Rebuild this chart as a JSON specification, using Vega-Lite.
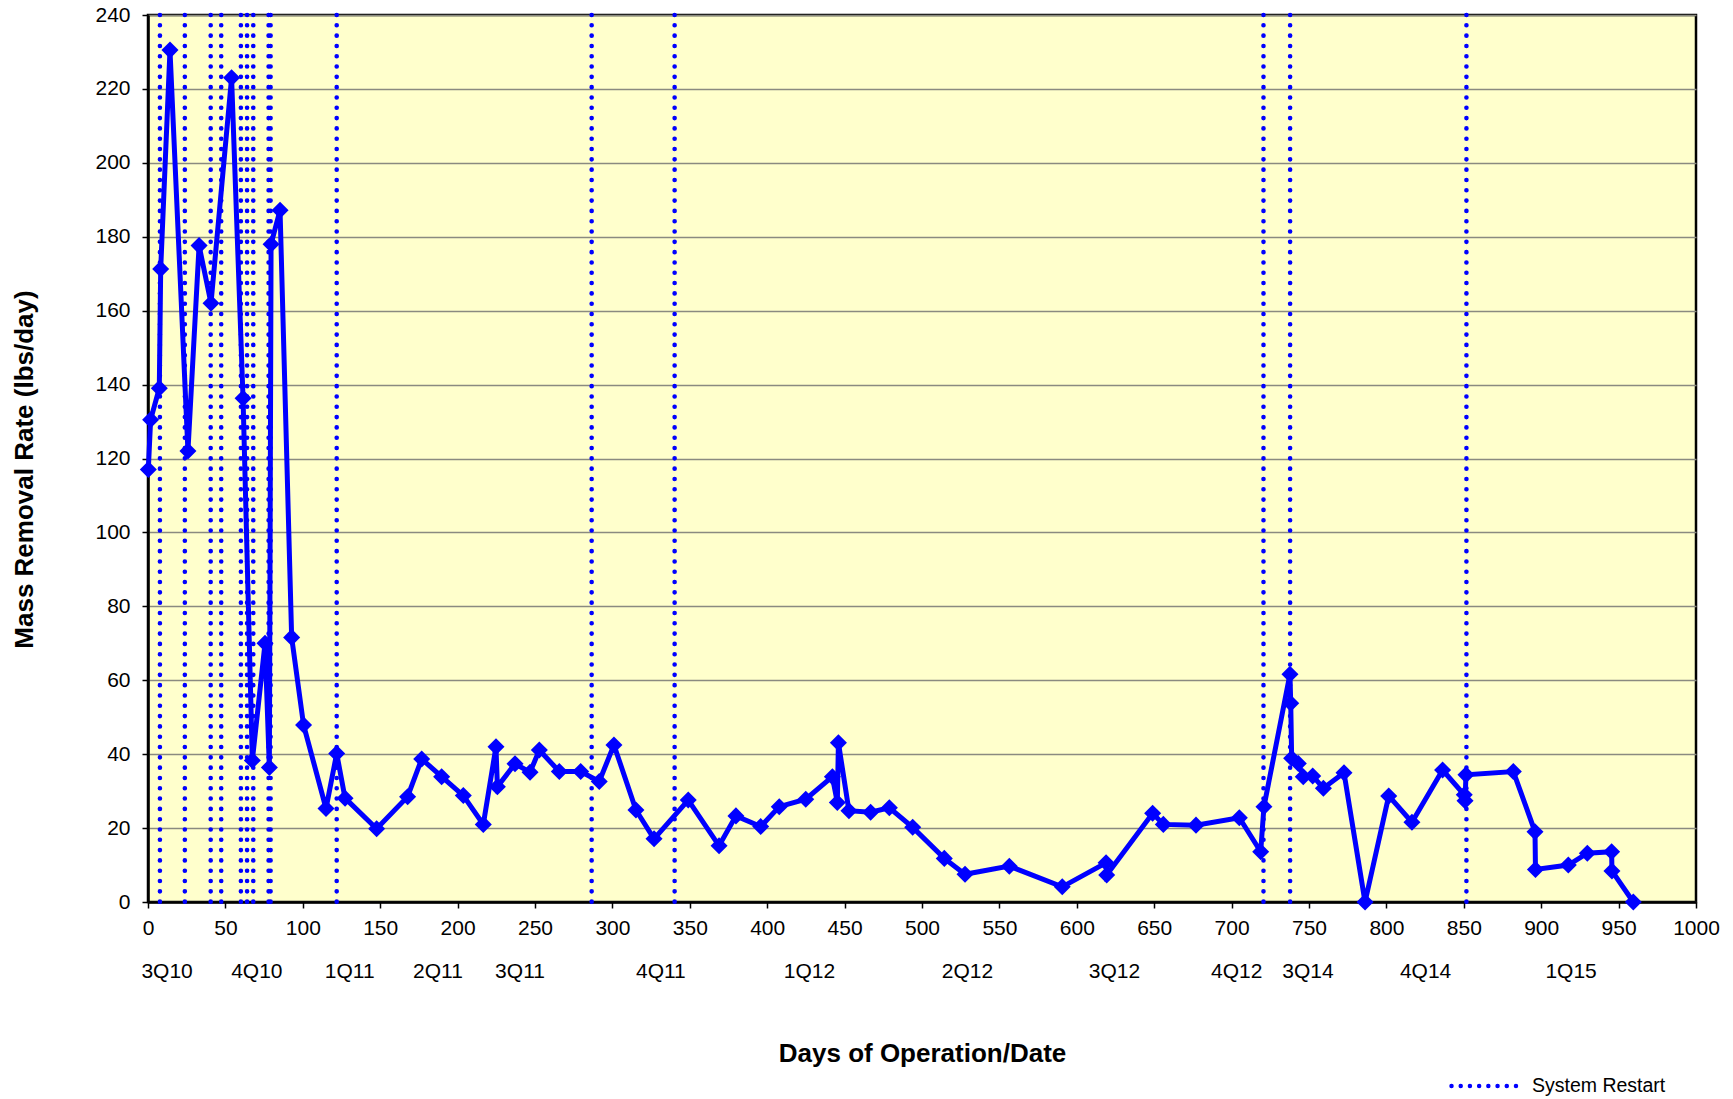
{
  "$schema": "https://vega.github.io/schema/vega-lite/v6.json",
  "width": 1548,
  "height": 887,
  "autosize": {"type": "none"},
  "padding": {"left": 148, "top": 15, "right": 37, "bottom": 197},
  "background": "#FFFFFF",
  "config": {
    "font": "Liberation Sans",
    "view": {"fill": "#FFFFCC", "stroke": "#000000", "strokeWidth": 2.5},
    "axis": {
      "labelFont": "Liberation Sans",
      "labelFontSize": 21,
      "labelColor": "#000000",
      "titleFont": "Liberation Sans",
      "titleFontSize": 26,
      "titleFontWeight": "bold",
      "titleColor": "#000000",
      "domainColor": "#000000",
      "domainWidth": 2.5,
      "tickColor": "#000000",
      "tickWidth": 1.5,
      "gridColor": "#8A8A80",
      "gridWidth": 1.3,
      "gridOpacity": 1
    },
    "legend": {"labelFont": "Liberation Sans"}
  },
  "datasets": {
    "mass": [
      {"i": 1, "day": 0.2, "rate": 117},
      {"i": 2, "day": 1.7, "rate": 130.5},
      {"i": 3, "day": 7.3, "rate": 139},
      {"i": 4, "day": 8.2, "rate": 171.3},
      {"i": 5, "day": 14.2, "rate": 230.5},
      {"i": 6, "day": 25.8, "rate": 122},
      {"i": 7, "day": 33, "rate": 177.6},
      {"i": 8, "day": 40.7, "rate": 162},
      {"i": 9, "day": 54, "rate": 223},
      {"i": 10, "day": 61.4, "rate": 136.3},
      {"i": 11, "day": 67.4, "rate": 38.3},
      {"i": 12, "day": 75.6, "rate": 70},
      {"i": 13, "day": 78.4, "rate": 36.4},
      {"i": 14, "day": 79.5, "rate": 178},
      {"i": 15, "day": 85.3, "rate": 187.2},
      {"i": 16, "day": 92.8, "rate": 71.6},
      {"i": 17, "day": 100.5, "rate": 47.9},
      {"i": 18, "day": 115, "rate": 25.3},
      {"i": 19, "day": 121.9, "rate": 40.2},
      {"i": 20, "day": 127.3, "rate": 28.1},
      {"i": 21, "day": 147.7, "rate": 19.8},
      {"i": 22, "day": 167.7, "rate": 28.5},
      {"i": 23, "day": 176.8, "rate": 38.7},
      {"i": 24, "day": 189.7, "rate": 33.9},
      {"i": 25, "day": 203.7, "rate": 28.8},
      {"i": 26, "day": 216.6, "rate": 21},
      {"i": 27, "day": 224.8, "rate": 42},
      {"i": 28, "day": 225.7, "rate": 31.2},
      {"i": 29, "day": 237.1, "rate": 37.4},
      {"i": 30, "day": 246.8, "rate": 35.1},
      {"i": 31, "day": 252.8, "rate": 41.1},
      {"i": 32, "day": 265.7, "rate": 35.3},
      {"i": 33, "day": 279.5, "rate": 35.3},
      {"i": 34, "day": 291.5, "rate": 32.6},
      {"i": 35, "day": 301, "rate": 42.5},
      {"i": 36, "day": 315.2, "rate": 24.9},
      {"i": 37, "day": 326.9, "rate": 17.1},
      {"i": 38, "day": 349, "rate": 27.6},
      {"i": 39, "day": 368.9, "rate": 15.2},
      {"i": 40, "day": 379.8, "rate": 23.3},
      {"i": 41, "day": 395.8, "rate": 20.4},
      {"i": 42, "day": 407.8, "rate": 25.8},
      {"i": 43, "day": 424.9, "rate": 27.8},
      {"i": 44, "day": 442.1, "rate": 33.9},
      {"i": 45, "day": 445.3, "rate": 26.9},
      {"i": 46, "day": 446, "rate": 43.1},
      {"i": 47, "day": 452.8, "rate": 24.7},
      {"i": 48, "day": 466.8, "rate": 24.3},
      {"i": 49, "day": 478.9, "rate": 25.5},
      {"i": 50, "day": 494, "rate": 20.2},
      {"i": 51, "day": 514.4, "rate": 11.8},
      {"i": 52, "day": 527.8, "rate": 7.5},
      {"i": 53, "day": 556.4, "rate": 9.7},
      {"i": 54, "day": 590.6, "rate": 4.1},
      {"i": 55, "day": 618.9, "rate": 10.6},
      {"i": 56, "day": 619.3, "rate": 7.3},
      {"i": 57, "day": 649, "rate": 24},
      {"i": 58, "day": 655.9, "rate": 21},
      {"i": 59, "day": 677, "rate": 20.8},
      {"i": 60, "day": 705, "rate": 22.8},
      {"i": 61, "day": 718.8, "rate": 13.6},
      {"i": 62, "day": 720.9, "rate": 25.8},
      {"i": 63, "day": 737.7, "rate": 61.6},
      {"i": 64, "day": 738.2, "rate": 53.8},
      {"i": 65, "day": 738.8, "rate": 38.9},
      {"i": 66, "day": 743.1, "rate": 37.5},
      {"i": 67, "day": 746.3, "rate": 33.9},
      {"i": 68, "day": 752.4, "rate": 34.1},
      {"i": 69, "day": 759.3, "rate": 30.8},
      {"i": 70, "day": 772.6, "rate": 35},
      {"i": 71, "day": 786.2, "rate": 0},
      {"i": 72, "day": 801.5, "rate": 28.7},
      {"i": 73, "day": 816.5, "rate": 21.6},
      {"i": 74, "day": 836.3, "rate": 35.7},
      {"i": 75, "day": 850.3, "rate": 29},
      {"i": 76, "day": 850.8, "rate": 27.4},
      {"i": 77, "day": 851.4, "rate": 34.4},
      {"i": 78, "day": 882, "rate": 35.3},
      {"i": 79, "day": 896, "rate": 19},
      {"i": 80, "day": 896.3, "rate": 8.8},
      {"i": 81, "day": 917.5, "rate": 10},
      {"i": 82, "day": 929.8, "rate": 13.2},
      {"i": 83, "day": 945.5, "rate": 13.6},
      {"i": 84, "day": 945.7, "rate": 8.4},
      {"i": 85, "day": 959.5, "rate": 0}
    ],
    "restarts": [
      {"day": 7.7, "event": "System Restart"},
      {"day": 23.8, "event": "System Restart"},
      {"day": 40.5, "event": "System Restart"},
      {"day": 47.3, "event": "System Restart"},
      {"day": 60, "event": "System Restart"},
      {"day": 64, "event": "System Restart"},
      {"day": 68, "event": "System Restart"},
      {"day": 77.9, "event": "System Restart"},
      {"day": 79.2, "event": "System Restart"},
      {"day": 121.9, "event": "System Restart"},
      {"day": 286.6, "event": "System Restart"},
      {"day": 340.2, "event": "System Restart"},
      {"day": 720.6, "event": "System Restart"},
      {"day": 737.8, "event": "System Restart"},
      {"day": 851.7, "event": "System Restart"}
    ]
  },
  "layer": [
    {
      "data": {"name": "restarts"},
      "mark": {"type": "rule", "strokeDash": [0.01, 10.3], "strokeCap": "round", "strokeWidth": 4.6},
      "encoding": {
        "x": {
          "field": "day",
          "type": "quantitative",
          "scale": {"domain": [0, 1000], "nice": false, "zero": false},
          "axis": {
            "orient": "bottom",
            "values": [12, 70, 130, 187, 240, 331, 427, 529, 624, 703, 749, 825, 919],
            "labelExpr": "datum.value==12?'3Q10':datum.value==70?'4Q10':datum.value==130?'1Q11':datum.value==187?'2Q11':datum.value==240?'3Q11':datum.value==331?'4Q11':datum.value==427?'1Q12':datum.value==529?'2Q12':datum.value==624?'3Q12':datum.value==703?'4Q12':datum.value==749?'3Q14':datum.value==825?'4Q14':'1Q15'",
            "ticks": false,
            "domain": false,
            "grid": false,
            "labelPadding": 58,
            "labelOverlap": false,
            "labelFlush": false,
            "labelBaseline": "top",
            "title": null
          }
        },
        "color": {
          "field": "event",
          "type": "nominal",
          "scale": {"range": ["#0000FF"]},
          "legend": {
            "title": null,
            "orient": "none",
            "legendX": 1301,
            "legendY": 1036,
            "symbolType": "stroke",
            "symbolSize": 4225,
            "symbolStrokeWidth": 4.5,
            "labelFontSize": 19.5,
            "labelColor": "#000000",
            "labelOffset": 13,
            "padding": 0,
            "encode": {
              "symbols": {"update": {"strokeCap": {"value": "round"}, "strokeDash": {"value": [0.01, 9.2]}, "strokeWidth": {"value": 4.5}}}
            }
          }
        }
      }
    },
    {
      "data": {"name": "mass"},
      "mark": {
        "type": "line",
        "color": "#0000FF",
        "strokeWidth": 5,
        "point": {"shape": "diamond", "size": 290, "filled": true, "color": "#0000FF", "opacity": 1}
      },
      "encoding": {
        "x": {
          "field": "day",
          "type": "quantitative",
          "scale": {"domain": [0, 1000], "nice": false, "zero": false},
          "axis": {
            "orient": "bottom",
            "values": [0, 50, 100, 150, 200, 250, 300, 350, 400, 450, 500, 550, 600, 650, 700, 750, 800, 850, 900, 950, 1000],
            "format": "d",
            "tickSize": 6,
            "labelPadding": 9,
            "labelFlush": false,
            "labelOverlap": false,
            "grid": false,
            "title": "Days of Operation/Date",
            "titleY": 151,
            "titleBaseline": "middle"
          }
        },
        "y": {
          "field": "rate",
          "type": "quantitative",
          "scale": {"domain": [0, 240], "nice": false},
          "axis": {
            "values": [0, 20, 40, 60, 80, 100, 120, 140, 160, 180, 200, 220, 240],
            "format": "d",
            "tickSize": 6,
            "labelPadding": 12,
            "grid": true,
            "labelFlush": false,
            "labelOverlap": false,
            "title": "Mass Removal Rate (lbs/day)",
            "titleX": -124,
            "titleY": 454,
            "titleAngle": -90,
            "titleAlign": "center",
            "titleBaseline": "middle"
          }
        },
        "order": {"field": "i", "type": "quantitative"}
      }
    }
  ],
  "resolve": {"axis": {"x": "independent"}}
}
